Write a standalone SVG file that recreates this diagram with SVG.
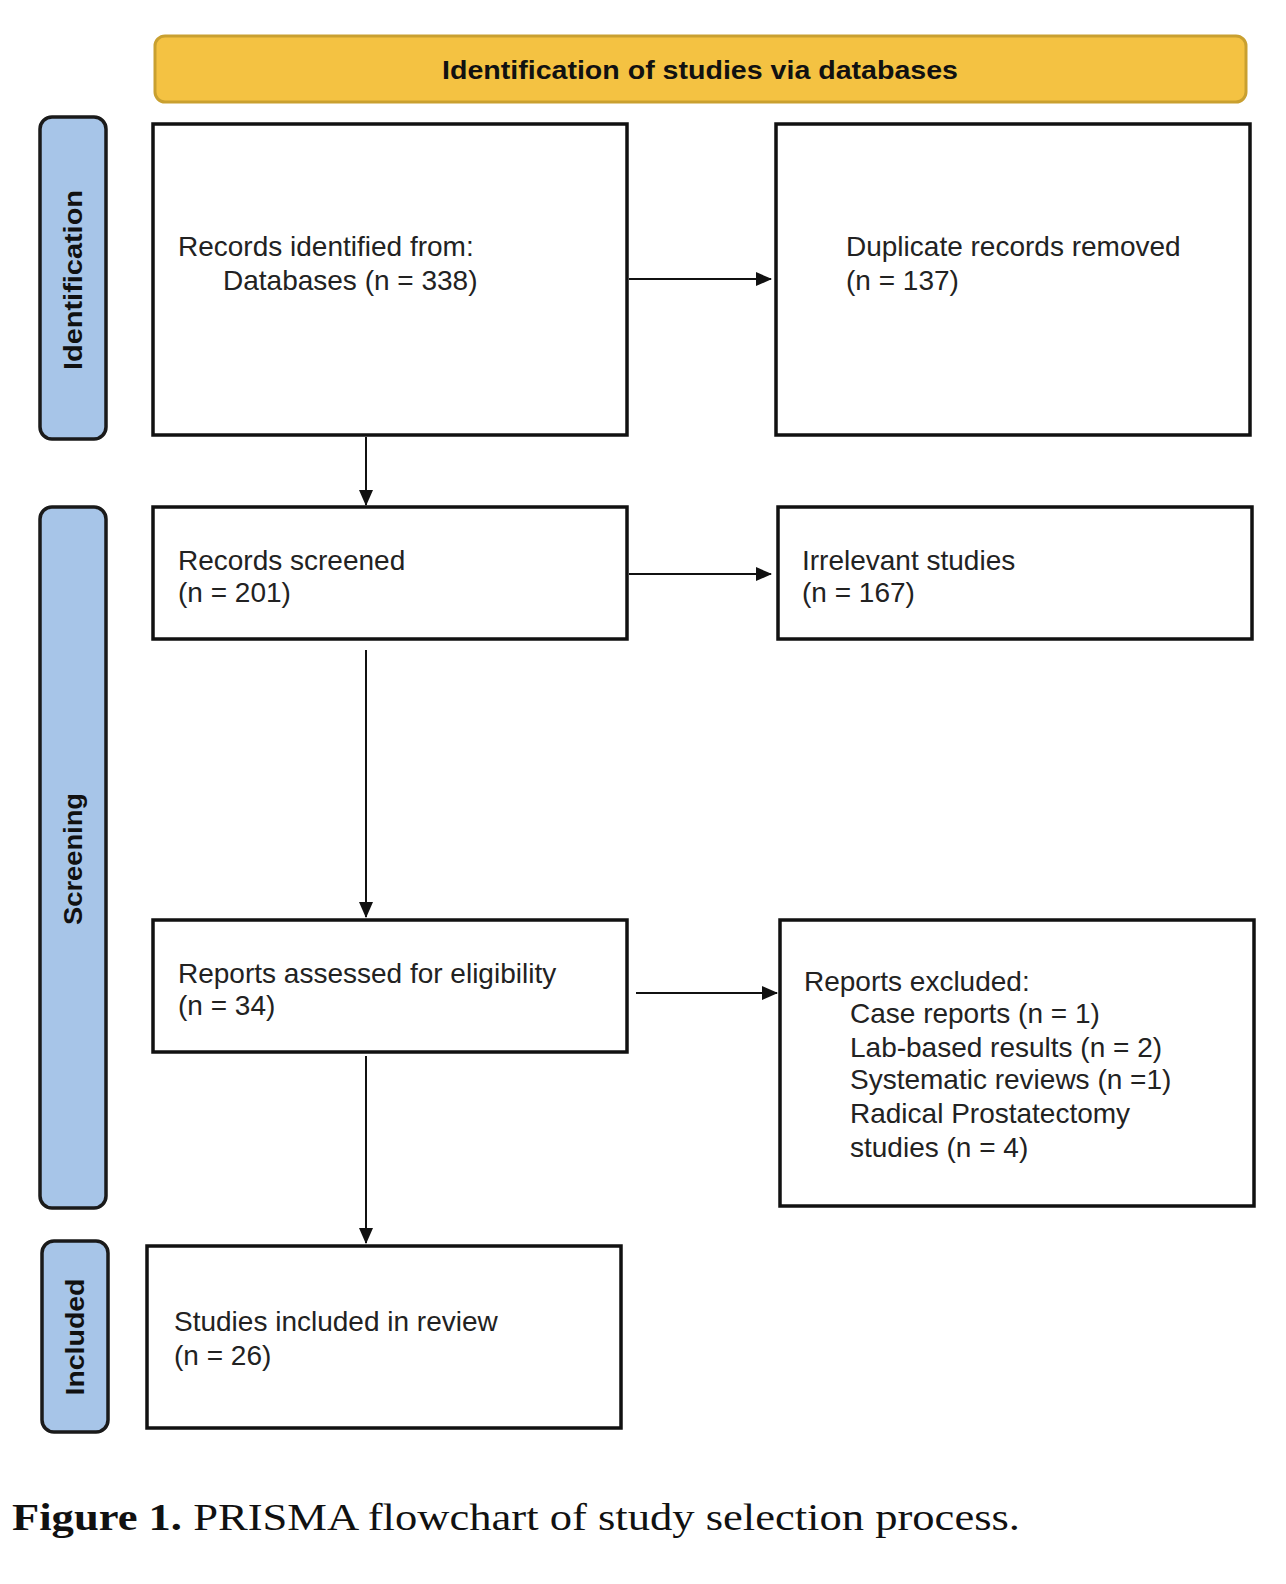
<svg xmlns="http://www.w3.org/2000/svg" width="1286" height="1584" viewBox="0 0 1286 1584">
<defs>
<marker id="arr" markerWidth="16" markerHeight="16" refX="15" refY="8" orient="auto" markerUnits="userSpaceOnUse" viewBox="0 0 16 16">
<path d="M0,1 L16,8 L0,15 z" fill="#111"/>
</marker>
<style>
.box{fill:#fff;stroke:#111;stroke-width:3.5}
.side{fill:#A7C5E8;stroke:#1a1a1a;stroke-width:3.5}
.t{font-family:"Liberation Sans",Arial,sans-serif;font-size:28px;fill:#222}
.st{font-family:"Liberation Sans",Arial,sans-serif;font-size:25px;font-weight:bold;fill:#111}
.c{stroke:#111;stroke-width:2;fill:none;marker-end:url(#arr)}
</style>
</defs>
<rect width="1286" height="1584" fill="#fff"/>
<g id="banner">
<rect x="155" y="36" width="1091" height="66" rx="10" fill="#F4C242" stroke="#C9A030" stroke-width="3"/>
<text x="700" y="79" text-anchor="middle" class="st" textLength="516" lengthAdjust="spacingAndGlyphs">Identification of studies via databases</text>
</g>
<g id="side-identification">
<rect x="40" y="117" width="66" height="322" rx="12" class="side"/>
<text class="st" transform="translate(82,280) rotate(-90)" text-anchor="middle" textLength="180" lengthAdjust="spacingAndGlyphs">Identification</text>
</g>
<g id="side-screening">
<rect x="40" y="507" width="66" height="701" rx="12" class="side"/>
<text class="st" transform="translate(82,859) rotate(-90)" text-anchor="middle" textLength="132" lengthAdjust="spacingAndGlyphs">Screening</text>
</g>
<g id="side-included">
<rect x="42" y="1241" width="66" height="191" rx="12" class="side"/>
<text class="st" transform="translate(84,1337) rotate(-90)" text-anchor="middle" textLength="117" lengthAdjust="spacingAndGlyphs">Included</text>
</g>
<g id="records-identified">
<rect x="153" y="124" width="474" height="311" class="box"/>
<text class="t" x="178" y="256">Records identified from:</text>
<text class="t" x="223" y="290">Databases (n = 338)</text>
</g>
<g id="duplicates">
<rect x="776" y="124" width="474" height="311" class="box"/>
<text class="t" x="846" y="256">Duplicate records removed</text>
<text class="t" x="846" y="290">(n = 137)</text>
</g>
<g id="records-screened">
<rect x="153" y="507" width="474" height="132" class="box"/>
<text class="t" x="178" y="570">Records screened</text>
<text class="t" x="178" y="602">(n = 201)</text>
</g>
<g id="irrelevant">
<rect x="778" y="507" width="474" height="132" class="box"/>
<text class="t" x="802" y="570">Irrelevant studies</text>
<text class="t" x="802" y="602">(n = 167)</text>
</g>
<g id="reports-assessed">
<rect x="153" y="920" width="474" height="132" class="box"/>
<text class="t" x="178" y="983">Reports assessed for eligibility</text>
<text class="t" x="178" y="1015">(n = 34)</text>
</g>
<g id="reports-excluded">
<rect x="780" y="920" width="474" height="286" class="box"/>
<text class="t" x="804" y="991">Reports excluded:</text>
<text class="t" x="850" y="1023">Case reports (n = 1)</text>
<text class="t" x="850" y="1057">Lab-based results (n = 2)</text>
<text class="t" x="850" y="1089">Systematic reviews (n =1)</text>
<text class="t" x="850" y="1123">Radical Prostatectomy</text>
<text class="t" x="850" y="1157">studies (n = 4)</text>
</g>
<g id="studies-included">
<rect x="147" y="1246" width="474" height="182" class="box"/>
<text class="t" x="174" y="1331">Studies included in review</text>
<text class="t" x="174" y="1365">(n = 26)</text>
</g>
<g id="connectors">
<line x1="629" y1="279" x2="771" y2="279" class="c"/>
<line x1="366" y1="437" x2="366" y2="505" class="c"/>
<line x1="629" y1="574" x2="771" y2="574" class="c"/>
<line x1="366" y1="650" x2="366" y2="917" class="c"/>
<line x1="636" y1="993" x2="777" y2="993" class="c"/>
<line x1="366" y1="1056" x2="366" y2="1243" class="c"/>
</g>
<g id="caption">
<text x="12" y="1530" font-family="'Liberation Serif','Times New Roman',serif" font-size="38" fill="#111" textLength="1008" lengthAdjust="spacingAndGlyphs"><tspan font-weight="bold">Figure 1.</tspan> PRISMA flowchart of study selection process.</text>
</g>
</svg>
